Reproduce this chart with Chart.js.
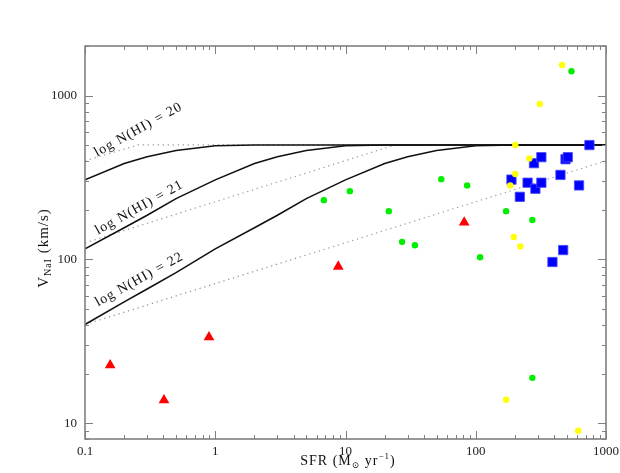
<!DOCTYPE html>
<html>
<head>
<meta charset="utf-8">
<script src="https://cdn.jsdelivr.net/npm/chart.js@4.4.1/dist/chart.umd.min.js"></script>
<style>
  html, body { margin: 0; padding: 0; background: #fff; }
  canvas { display: block; }
</style>
</head>
<body>
<canvas id="sfrChart" width="620" height="473"></canvas>
<script>
// ---- data ----
const redSfr = [0.156, 0.404, 0.895, 8.8, 81.5];
const redV = [22.6, 13.8, 33.5, 90.4, 168];

const greenSfr = [6.82, 10.8, 21.5, 27.2, 34.1, 54.4, 85.9, 108, 171, 272, 543, 272];
const greenV = [230, 261, 197, 128, 122, 309, 283, 103, 197, 174, 1409, 18.9];

const yellowSfr = [460, 310, 201, 258, 201, 184, 196, 220, 171, 611];
const yellowV = [1538, 890, 500, 413, 332, 283, 137, 120, 13.9, 8.98];

const blueSfr = [188, 218, 250, 287, 280, 319, 319, 447, 489, 509, 621, 746, 388, 469];
const blueV = [307, 241, 294, 270, 387, 421, 294, 328, 409, 421, 283, 499, 96.4, 114];

// model curves, log N(HI) = 20, 21, 22
const curve20Sfr = [0.1, 0.2, 0.3, 0.5, 1, 2, 1000];
const curve20V = [306, 385, 423, 462, 494, 500, 500];
const curve21Sfr = [0.1, 0.2, 0.3, 0.5, 1, 2, 3, 5, 10, 20, 1000];
const curve21V = [116, 156, 186, 235, 306, 385, 423, 462, 494, 500, 500];
const curve22Sfr = [0.1, 0.2, 0.3, 0.5, 1, 2, 3, 5, 10, 20, 30, 50, 100, 200, 1000];
const curve22V = [40, 55, 66, 83, 116, 156, 186, 235, 306, 385, 423, 462, 494, 500, 500];

const dot20Sfr = [0.1, 0.256, 1000];
const dot20V = [400, 500, 500];
const dot21Sfr = [0.1, 24, 1000];
const dot21V = [126, 500, 500];
const dot22Sfr = [0.1, 1000];
const dot22V = [40, 400];

const xMajor = [0.1, 1, 10, 100, 1000];
const yMajor = [10, 100, 1000];
const curveLabels = ["log N(HI) = 20", "log N(HI) = 21", "log N(HI) = 22"];
const labelAt = [[0.1236, 423], [0.1258, 141.5], [0.1258, 51.5]];

const pts = (xs, ys) => xs.map((x, i) => ({ x, y: ys[i] }));
const isMajor = v => Math.abs(Math.log10(v) - Math.round(Math.log10(v))) < 1e-6;
const majorLabel = list => v => {
  const r = Number(Number(v).toPrecision(3));
  return (isMajor(v) && list.includes(r)) ? String(r) : '';
};

function minorTicks(lo, hi) {
  const out = [];
  for (let e = Math.floor(Math.log10(lo)); e <= Math.ceil(Math.log10(hi)); e++) {
    for (let m = 1; m <= 9; m++) {
      const v = m * Math.pow(10, e);
      if (v >= lo * 0.999 && v <= hi * 1.001) out.push(v);
    }
  }
  return out;
}

const serif = '"Liberation Serif", "DejaVu Serif", serif';

const framePlugin = {
  id: 'frame',
  afterDraw(chart) {
    const { ctx, chartArea: a, scales: { x, y } } = chart;
    ctx.save();
    ctx.strokeStyle = '#808080';
    ctx.lineWidth = 1;
    ctx.beginPath();
    minorTicks(x.min, x.max).forEach(v => {
      const px = Math.round(x.getPixelForValue(v)) + 0.5;
      const len = isMajor(v) ? 8 : 4;
      ctx.moveTo(px, a.bottom); ctx.lineTo(px, a.bottom - len);
      ctx.moveTo(px, a.top); ctx.lineTo(px, a.top + len);
    });
    minorTicks(y.min, y.max).forEach(v => {
      const py = Math.round(y.getPixelForValue(v)) + 0.5;
      const len = isMajor(v) ? 8 : 4;
      ctx.moveTo(a.left, py); ctx.lineTo(a.left + len, py);
      ctx.moveTo(a.right, py); ctx.lineTo(a.right - len, py);
    });
    ctx.stroke();
    ctx.lineWidth = 1.6;
    ctx.strokeRect(a.left, a.top, a.right - a.left, a.bottom - a.top);

    // curve labels
    ctx.fillStyle = '#111';
    ctx.font = '14px ' + serif;
    ctx.letterSpacing = '1px';
    ctx.textBaseline = 'alphabetic';
    curveLabels.forEach((t, i) => {
      const px = x.getPixelForValue(labelAt[i][0]);
      const py = y.getPixelForValue(labelAt[i][1]);
      ctx.save();
      ctx.translate(px, py);
      ctx.rotate(-29 * Math.PI / 180);
      ctx.fillText(t, 0, 0);
      ctx.restore();
    });

    // axis titles with sub/superscripts
    function runs(parts) {
      let w = 0;
      parts.forEach(p => { ctx.font = p[1]; w += ctx.measureText(p[0]).width; });
      return w;
    }
    function drawRuns(parts, x0, y0) {
      let cx = x0;
      parts.forEach(p => {
        ctx.font = p[1];
        ctx.fillText(p[0], cx, y0 + p[2]);
        cx += ctx.measureText(p[0]).width;
      });
    }
    const big = '14px ' + serif, small = '9px ' + serif;
    const xTitle = [['SFR (M', big, 0], ['\u2299', small, 3], [' yr', big, 0], ['\u22121', small, -6], [')', big, 0]];
    const wx = runs(xTitle);
    drawRuns(xTitle, 348 - wx / 2, 465);

    const bigY = '15px ' + serif, smallY = '10px ' + serif;
    const yTitle = [['V', bigY, 0], ['NaI', smallY, 3], [' (km/s)', bigY, 0]];
    const wy = runs(yTitle);
    ctx.save();
    ctx.translate(48, 248);
    ctx.rotate(-Math.PI / 2);
    drawRuns(yTitle, -wy / 2, 0);
    ctx.restore();
    ctx.restore();
  }
};

const lineDs = (xs, ys, dotted, order) => ({
  data: pts(xs, ys),
  showLine: true,
  pointRadius: 0,
  borderColor: dotted ? '#9a9a9a' : '#111',
  borderWidth: dotted ? 1.2 : 1.6,
  borderDash: dotted ? [1.3, 3.7] : [],
  tension: 0,
  order
});

new Chart(document.getElementById('sfrChart'), {
  type: 'scatter',
  data: {
    datasets: [
      { data: pts(yellowSfr, yellowV), pointStyle: 'circle', pointRadius: 3.2, backgroundColor: '#ffff00', borderWidth: 0, order: 0 },
      { data: pts(greenSfr, greenV), pointStyle: 'circle', pointRadius: 3.2, backgroundColor: '#00ee00', borderWidth: 0, order: 1 },
      { data: pts(redSfr, redV), pointStyle: 'triangle', pointRadius: 6.2, backgroundColor: '#ff0000', borderWidth: 0, order: 2 },
      { data: pts(blueSfr, blueV), pointStyle: 'rect', pointRadius: 6.6, backgroundColor: '#0000ff', borderColor: '#4a4aff', borderWidth: 0.8, order: 3 },
      lineDs(curve20Sfr, curve20V, false, 4),
      lineDs(curve21Sfr, curve21V, false, 4),
      lineDs(curve22Sfr, curve22V, false, 4),
      lineDs(dot20Sfr, dot20V, true, 5),
      lineDs(dot21Sfr, dot21V, true, 5),
      lineDs(dot22Sfr, dot22V, true, 5)
    ]
  },
  options: {
    responsive: false,
    animation: false,
    layout: { padding: { top: 46, right: 14, left: 0, bottom: 0 } },
    plugins: { legend: { display: false }, tooltip: { enabled: false } },
    scales: {
      x: {
        type: 'logarithmic',
        min: 0.1,
        max: 1000,
        grid: { display: false, drawTicks: false },
        border: { display: false },
        afterFit: s => { s.height = 34; s.paddingLeft = 0; s.paddingRight = 0; },
        ticks: {
          autoSkip: false,
          maxRotation: 0,
          padding: 5,
          color: '#222',
          font: { family: serif, size: 13 },
          callback: majorLabel(xMajor)
        }
      },
      y: {
        type: 'logarithmic',
        min: 8,
        max: 2010,
        grid: { display: false, drawTicks: false },
        border: { display: false },
        afterFit: s => { s.width = 85; s.paddingTop = 0; s.paddingBottom = 0; },
        ticks: {
          autoSkip: false,
          padding: 8,
          color: '#222',
          font: { family: serif, size: 13 },
          callback: majorLabel(yMajor)
        }
      }
    }
  },
  plugins: [framePlugin]
});
</script>
</body>
</html>
